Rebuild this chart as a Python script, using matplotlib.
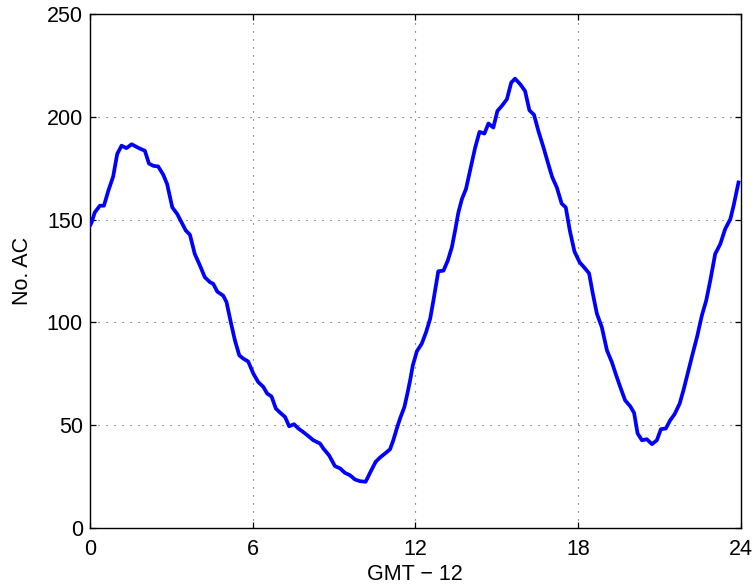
import matplotlib
matplotlib.use("Agg")
import matplotlib.pyplot as plt

# Aircraft count over the day (hours, GMT - 12)
hours = [0.00, 0.06, 0.18, 0.37, 0.52, 0.68, 0.86, 1.01, 1.17, 1.35, 1.54, 1.78,
         2.03, 2.18, 2.34, 2.52, 2.71, 2.85, 3.04, 3.22, 3.38, 3.54, 3.69, 3.87,
         4.06, 4.24, 4.43, 4.55, 4.70, 4.92, 5.04, 5.20, 5.35, 5.51, 5.66, 5.84,
         6.03, 6.21, 6.40, 6.54, 6.70, 6.86, 7.01, 7.20, 7.35, 7.53, 7.69, 7.87,
         8.06, 8.24, 8.49, 8.61, 8.82, 9.04, 9.23, 9.41, 9.59, 9.78, 9.96, 10.17,
         10.33, 10.54, 10.70, 10.89, 11.07, 11.19, 11.32, 11.44, 11.60, 11.71, 11.81, 11.91,
         12.06, 12.24, 12.40, 12.55, 12.67, 12.85, 13.04, 13.20, 13.35, 13.47, 13.59, 13.72,
         13.87, 14.02, 14.21, 14.37, 14.55, 14.70, 14.88, 15.03, 15.19, 15.38, 15.54, 15.68,
         15.87, 16.05, 16.21, 16.38, 16.54, 16.73, 16.89, 17.05, 17.22, 17.40, 17.55, 17.70,
         17.87, 18.06, 18.23, 18.41, 18.55, 18.70, 18.88, 19.07, 19.25, 19.41, 19.56, 19.74,
         19.93, 20.07, 20.20, 20.36, 20.54, 20.73, 20.91, 21.06, 21.24, 21.40, 21.56, 21.75,
         21.89, 22.06, 22.20, 22.39, 22.57, 22.73, 22.88, 23.06, 23.25, 23.43, 23.62, 23.74,
         23.92]
aircraft = [147.0, 148.5, 153.5, 156.8, 156.8, 164.0, 171.0, 182.0, 186.0, 184.8, 186.7, 185.0,
            183.5, 177.3, 176.2, 175.9, 171.8, 167.3, 156.0, 152.8, 148.7, 144.7, 142.7, 133.3,
            127.7, 122.0, 119.6, 118.8, 115.0, 113.0, 109.9, 100.0, 91.3, 84.0, 82.4, 81.0,
            75.1, 71.0, 68.6, 65.4, 64.0, 58.1, 56.2, 54.0, 49.5, 50.5, 48.4, 46.7,
            44.7, 42.7, 41.1, 38.7, 35.4, 30.1, 29.0, 26.8, 25.7, 23.6, 22.8, 22.5,
            26.8, 32.2, 34.3, 36.3, 38.3, 42.7, 48.4, 53.3, 58.9, 65.4, 71.8, 79.1,
            86.0, 89.7, 95.3, 101.8, 110.7, 124.9, 125.2, 130.1, 136.6, 144.7, 153.5, 160.0,
            164.9, 173.8, 185.1, 192.7, 191.9, 196.8, 194.8, 202.9, 205.3, 208.6, 216.7, 218.6,
            215.9, 212.6, 203.2, 201.0, 193.2, 185.1, 177.8, 170.7, 165.7, 157.8, 156.0, 144.7,
            134.6, 129.3, 126.8, 123.9, 113.9, 104.2, 97.7, 86.4, 80.7, 74.3, 68.6, 62.1,
            59.2, 56.0, 46.0, 42.7, 43.2, 40.8, 42.7, 48.1, 48.4, 52.4, 55.3, 60.5,
            67.0, 75.9, 83.2, 92.9, 103.4, 110.7, 120.4, 133.3, 138.2, 145.5, 150.3, 156.8,
            168.1]

x_ticks = [0, 6, 12, 18, 24]
y_ticks = [0, 50, 100, 150, 200, 250]

plt.rcParams['font.family'] = ['Liberation Sans', 'DejaVu Sans']

fig = plt.figure(figsize=(7.55, 5.88), dpi=100)
ax = fig.add_axes([0.119, 0.102, 0.862, 0.874])

ax.plot(hours, aircraft, color=(0, 0, 1), linewidth=2.7, zorder=3)

ax.set_xlim(0, 24)
ax.set_ylim(0, 250)
ax.set_xticks(x_ticks)
ax.set_yticks(y_ticks)
ax.tick_params(direction='in', top=True, right=True, labelsize=15.5,
               length=4.5, width=0.9)
ax.tick_params(axis='x', pad=8)
ax.tick_params(axis='y', pad=5)
ax.grid(True, linestyle=(0, (1, 6.2)), color='#444444', linewidth=0.8)
for s in ax.spines.values():
    s.set_linewidth(1.0)

ax.set_xlabel('GMT \u2212 12', fontsize=15.5, labelpad=3)
ax.set_ylabel('No. AC', fontsize=15.5, labelpad=10)

fig.savefig('out.png', dpi=100)
